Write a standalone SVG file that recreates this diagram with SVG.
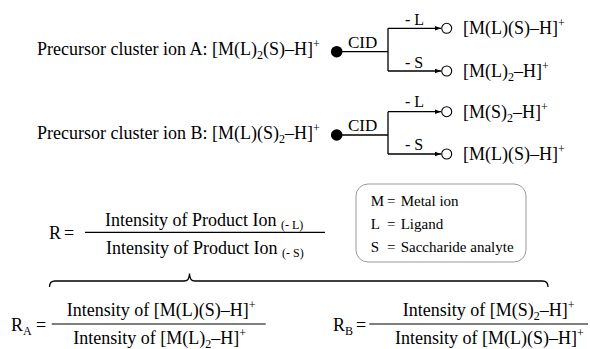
<svg xmlns="http://www.w3.org/2000/svg" width="590" height="349" viewBox="0 0 590 349">
<style>
text{font-family:"Liberation Serif","Times New Roman",serif;fill:#000}
.t18{font-size:18px}
.t16{font-size:16px}
.t17{font-size:17px}
.t15{font-size:15px}
.s{font-size:12px}
.ln{stroke:#000;stroke-width:1.3;fill:none}
.fr{stroke:#000;stroke-width:1.2}
.oc{fill:#fff;stroke:#000;stroke-width:1.1}
</style>
<defs>
<marker id="ah" viewBox="0 0 6 6" refX="6" refY="3" markerWidth="6" markerHeight="6" markerUnits="userSpaceOnUse" orient="auto">
<path d="M0,0.8 L6,3 L0,5.2 Z" fill="#000"/>
</marker>
</defs>

<g id="precursorA">
<text class="t18" x="37" y="55">Precursor cluster ion A: [M(L)<tspan class="s" dy="4">2</tspan><tspan dy="-4">(S)–H]</tspan><tspan class="s" dy="-7">+</tspan></text>
<circle cx="336.7" cy="51.7" r="5.8" fill="#000"/>
</g>
<g id="precursorB">
<text class="t18" x="37" y="139">Precursor cluster ion B: [M(L)(S)<tspan class="s" dy="4">2</tspan><tspan dy="-4">–H]</tspan><tspan class="s" dy="-7">+</tspan></text>
<circle cx="336.7" cy="135" r="5.8" fill="#000"/>
</g>

<g id="connectors">
<path class="ln" d="M336.7,51.7 H388 M388,28.3 V71"/>
<path class="ln" d="M388,28.3 H441" marker-end="url(#ah)"/>
<path class="ln" d="M388,71 H441" marker-end="url(#ah)"/>
<path class="ln" d="M336.7,135 H388 M388,111.7 V154"/>
<path class="ln" d="M388,111.7 H441" marker-end="url(#ah)"/>
<path class="ln" d="M388,154 H441" marker-end="url(#ah)"/>
<text class="t17" x="348" y="48">CID</text>
<text class="t17" x="348" y="131">CID</text>
<text class="t16" x="405" y="25">- L</text>
<text class="t16" x="405" y="67.5">- S</text>
<text class="t16" x="405" y="107">- L</text>
<text class="t16" x="405" y="150">- S</text>
</g>

<g id="productA1">
<circle class="oc" cx="446.7" cy="28.3" r="5"/>
<text class="t18" x="463" y="34">[M(L)(S)–H]<tspan class="s" dy="-7">+</tspan></text>
</g>
<g id="productA2">
<circle class="oc" cx="446.7" cy="71" r="5"/>
<text class="t18" x="463" y="77">[M(L)<tspan class="s" dy="4">2</tspan><tspan dy="-4">–H]</tspan><tspan class="s" dy="-7">+</tspan></text>
</g>
<g id="productB1">
<circle class="oc" cx="446.7" cy="111.7" r="5"/>
<text class="t18" x="463" y="117.5">[M(S)<tspan class="s" dy="4">2</tspan><tspan dy="-4">–H]</tspan><tspan class="s" dy="-7">+</tspan></text>
</g>
<g id="productB2">
<circle class="oc" cx="446.7" cy="154" r="5"/>
<text class="t18" x="463" y="160">[M(L)(S)–H]<tspan class="s" dy="-7">+</tspan></text>
</g>

<g id="formulaR">
<text class="t18" x="49" y="239">R</text>
<text class="t18" x="64" y="239">=</text>
<line class="fr" x1="85" y1="232.3" x2="325" y2="232.3"/>
<text class="t18" x="105" y="225.5">Intensity of Product Ion <tspan class="s" dy="3">(- L)</tspan></text>
<text class="t18" x="106" y="254">Intensity of Product Ion <tspan class="s" dy="3">(- S)</tspan></text>
</g>

<g id="legend">
<rect x="356" y="184" width="170" height="78" rx="12" ry="12" fill="#fff" stroke="#999" stroke-width="1"/>
<text class="t15" x="370.7" y="205.5">M</text><text class="t15" x="387" y="205.5">=</text><text class="t15" x="400.7" y="205.5">Metal ion</text>
<text class="t15" x="370.7" y="228.5">L</text><text class="t15" x="387" y="228.5">=</text><text class="t15" x="400.7" y="228.5">Ligand</text>
<text class="t15" x="370.7" y="251.5">S</text><text class="t15" x="387" y="251.5">=</text><text class="t15" x="400.7" y="251.5">Saccharide analyte</text>
</g>

<g id="brace">
<path class="ln" stroke-width="1" d="M49.5,287 Q49.5,281 55,281 H184 Q189.5,281 189.5,273.5 Q189.5,281 195,281 H542.5 Q548,281 548,287"/>
</g>

<g id="formulaRA">
<text class="t18" x="11" y="331">R<tspan class="s" dy="4">A</tspan></text>
<text class="t18" x="36" y="331">=</text>
<line class="fr" x1="51.7" y1="324" x2="265.7" y2="324"/>
<text class="t18" x="66.7" y="316">Intensity of [M(L)(S)–H]<tspan class="s" dy="-7">+</tspan></text>
<text class="t18" x="73.3" y="343.5">Intensity of [M(L)<tspan class="s" dy="4">2</tspan><tspan dy="-4">–H]</tspan><tspan class="s" dy="-7">+</tspan></text>
</g>

<g id="formulaRB">
<text class="t18" x="333" y="331">R<tspan class="s" dy="4">B</tspan></text>
<text class="t18" x="356" y="331">=</text>
<line class="fr" x1="369.3" y1="324" x2="588" y2="324"/>
<text class="t18" x="402.7" y="316">Intensity of [M(S)<tspan class="s" dy="4">2</tspan><tspan dy="-4">–H]</tspan><tspan class="s" dy="-7">+</tspan></text>
<text class="t18" x="395" y="343.5">Intensity of [M(L)(S)–H]<tspan class="s" dy="-7">+</tspan></text>
</g>
</svg>
